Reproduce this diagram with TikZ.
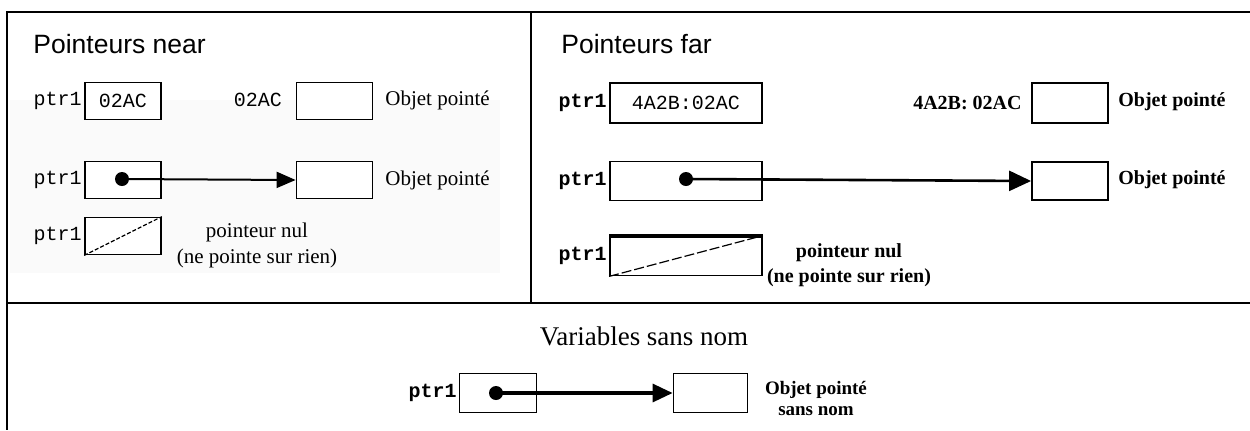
\documentclass[tikz,border=0pt]{standalone}
\usepackage{fontspec}
\setmainfont{Liberation Serif}
\setsansfont{Liberation Sans}
\setmonofont{Liberation Mono}
\usetikzlibrary{arrows.meta}

\tikzset{
  frame/.style={line width=1.25pt},
  heading/.style={anchor=base west, inner sep=0pt, font=\sffamily\fontsize{13.25}{15}\selectfont},
  cell/.style={draw, line width=0.9pt, inner sep=0pt, font=\ttfamily\fontsize{10}{12}\selectfont},
  nearcell/.style={cell, fill=white, minimum width=38pt, minimum height=18.5pt},
  farcell/.style={cell, minimum width=76pt, minimum height=19.5pt},
  objbox/.style={draw, line width=0.9pt, inner sep=0pt, minimum width=38pt, minimum height=19pt},
  ptrname/.style={anchor=east, inner sep=1pt, font=\ttfamily\fontsize{10}{12}\selectfont},
  txt/.style={inner sep=0pt, align=center, font=\fontsize{10.5}{13}\selectfont},
  boldtxt/.style={inner sep=0pt, align=center, font=\bfseries\fontsize{10}{12.5}\selectfont},
  dot/.style={circle, fill, inner sep=0pt, minimum size=7pt},
  pointsto/.style={line width=1pt, -{Triangle[length=9.5pt,width=8pt]}},
  nullptr/.style={line width=0.6pt, dash pattern=on 2pt off 1pt}
}

\begin{document}
\begin{tikzpicture}[x=0.5pt,y=-0.5pt]
  \useasboundingbox (0,0) rectangle (1250,430);

  % cadre
  \fill[black!2] (10,100) rectangle (500,273);
  \draw[frame] (1250,12) -- (7,12) -- (7,430);
  \draw[frame] (7,303) -- (1250,303);
  \draw[line width=0.8pt] (531,12) -- (531,303);

  % --- pointeurs near
  \node[heading] (near) at (33,53) {Pointeurs near};
  \foreach \y in {101, 180, 236}
           {
             \node[ptrname] at (84,\y) {ptr1};
           }

  \node[nearcell] (a1) at (123,101) {02AC};
  \node[font=\ttfamily\fontsize{10}{12}\selectfont] (a1adr) at (258,100) {02AC};
  \node[objbox, fill=white, minimum height=18.5pt] (a1obj) at (334.5,101) {};
  \node[txt, anchor=west] (a1lbl) at (385,100) {Objet pointé};

  \node[nearcell] (b1) at (123,180) {};
  \node[objbox, fill=white, minimum height=18.5pt] (b1obj) at (334.5,180) {};
  \node[txt, anchor=west] (b1lbl) at (385,180) {Objet pointé};
  \node[dot] (b1dot) at (122,179) {};
  \draw[pointsto] (b1dot.center) -- (b1obj.west);

  \node[nearcell] (c1) at (123,236) {};
  \draw[nullptr] (c1.south west) -- (c1.north east);
  \node[txt] (c1lbl) at (257,245) {pointeur nul\\(ne pointe sur rien)};

  % --- pointeurs far
  \node[heading] (far) at (561,53) {Pointeurs far};
  \foreach \y in {103, 181, 256}
           {
             \node[ptrname, font=\bfseries\ttfamily\fontsize{10}{12}\selectfont] at (609,\y) {ptr1};
           }

  \node[farcell, minimum height=20pt] (a2) at (686,103) {4A2B:02AC};
  \node[boldtxt, anchor=east] (a2adr) at (1022,103) {4A2B: 02AC};
  \node[objbox, minimum height=20pt] (a2obj) at (1070,103) {};
  \node[boldtxt, anchor=west] (a2lbl) at (1118,102) {Objet pointé};

  \node[farcell] (b2) at (686,181) {};
  \node[objbox] (b2obj) at (1070,181) {};
  \node[boldtxt, anchor=west] (b2lbl) at (1118,180) {Objet pointé};
  \node[dot] (b2dot) at (686,179) {};
  \draw[pointsto, line width=1.3pt, -{Triangle[length=11pt,width=10pt]}] (b2dot.center) -- (b2obj.west);

  \node[farcell] (c2) at (686,256) {};
  \draw[line width=2pt] (c2.north west) -- (c2.north east);
  \draw[nullptr, dash pattern=on 5pt off 1.5pt] (c2.south west) -- (c2.north east);
  \node[boldtxt] (c2lbl) at (849,265) {pointeur nul\\(ne pointe sur rien)};

  % --- variables sans nom
  \node[anchor=base, inner sep=0pt, font=\fontsize{13.5}{16}\selectfont] (anon) at (644,345) {Variables sans nom};
  \node[ptrname, font=\bfseries\ttfamily\fontsize{10}{12}\selectfont] at (459,393) {ptr1};
  \node[cell, minimum width=38.5pt, minimum height=19.5pt] (d3) at (498,393) {};
  \node[objbox, minimum width=37pt, minimum height=19.5pt] (d3obj) at (710.5,393) {};
  \node[dot] (d3dot) at (496,393) {};
  \draw[pointsto, line width=1.6pt, -{Triangle[length=10pt,width=9pt]}] (d3dot.center) -- (d3obj.west);
  \node[boldtxt, font=\bfseries\fontsize{9.5}{10.5}\selectfont] (d3lbl) at (816,398) {Objet pointé\\sans nom};
\end{tikzpicture}
\end{document}
